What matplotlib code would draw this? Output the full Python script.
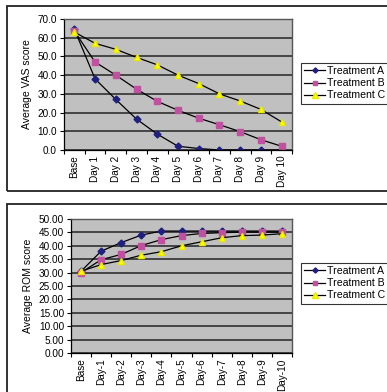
import matplotlib
matplotlib.use("Agg")
import matplotlib.pyplot as plt
from matplotlib.patches import Rectangle
import numpy as np

plt.rcParams['font.family'] = ['Liberation Sans', 'DejaVu Sans']

# Pain scores (VAS) over the treatment period
vas_days = ["Base", "Day 1", "Day 2", "Day 3", "Day 4", "Day 5",
            "Day 6", "Day 7", "Day 8", "Day 9", "Day 10"]
vas_a = [64.5, 38.0, 27.0, 16.5, 8.5, 2.0, 0.8, 0.0, 0.0, 0.0, 0.0]
vas_b = [63.5, 47.0, 40.0, 32.5, 26.0, 21.2, 17.0, 13.5, 9.8, 5.5, 2.0]
vas_c = [63.0, 57.0, 53.8, 49.5, 45.5, 40.0, 35.5, 30.0, 26.2, 21.7, 15.0]
vas_ticks = [0, 10, 20, 30, 40, 50, 60, 70]

# Range of motion (ROM) over the treatment period
rom_days = ["Base", "Day-1", "Day-2", "Day-3", "Day-4", "Day-5",
            "Day-6", "Day-7", "Day-8", "Day-9", "Day-10"]
rom_a = [30.5, 38.0, 41.2, 44.0, 45.5, 45.5, 45.5, 45.5, 45.5, 45.5, 45.5]
rom_b = [30.0, 34.8, 36.8, 40.1, 42.3, 43.8, 44.6, 44.9, 45.1, 45.1, 45.1]
rom_c = [30.5, 33.0, 34.5, 36.5, 37.8, 40.0, 41.5, 43.0, 43.8, 44.0, 44.5]
rom_ticks = [0, 5, 10, 15, 20, 25, 30, 35, 40, 45, 50]

series_names = ["Treatment A", "Treatment B", "Treatment C"]
styles = [
    dict(marker="D", color="black", markerfacecolor="#1F1F80", markeredgecolor="#1F1F80", markersize=3.5),
    dict(marker="s", color="black", markerfacecolor="#C050A0", markeredgecolor="#C050A0", markersize=4.5),
    dict(marker="^", color="black", markerfacecolor="#FFFF00", markeredgecolor="#E8E800", markersize=5),
]

W, H = 387, 392
fig = plt.figure(figsize=(W / 100, H / 100), dpi=100)

# Chart frames
for (x0, y0, y1) in [(7, 6, 191), (7, 204, 400)]:
    fig.patches.append(Rectangle((x0 / W, 1 - y1 / H), (400 - x0) / W, (y1 - y0) / H,
                                 transform=fig.transFigure, fill=False,
                                 edgecolor="#222222", linewidth=1.3))


def draw_panel(rect, days, series, ticks, fmt, ylabel, legend_top):
    ax = fig.add_axes(rect)
    ax.set_facecolor("#C0C0C0")
    x = np.arange(len(days))
    for vals, name, st in zip(series, series_names, styles):
        ax.plot(x, vals, linewidth=0.9, label=name, **st)
    ax.set_xlim(-0.5, len(days) - 0.5)
    ax.set_ylim(ticks[0], ticks[-1])
    ax.set_yticks(ticks)
    ax.set_yticklabels([fmt.format(t) for t in ticks], fontsize=7.2)
    ax.yaxis.grid(True, color="#303030", linewidth=1.2)
    ax.set_axisbelow(True)
    ax.set_xticks(x)
    ax.set_xticklabels(days, rotation=90, fontsize=7.2)
    ax.tick_params(axis="x", length=0, pad=4)
    ax.set_xticks(np.arange(-0.5, len(days), 1.0), minor=True)
    ax.tick_params(axis="x", which="minor", length=3, width=0.8, direction="out")
    ax.tick_params(axis="y", length=3, width=0.8, direction="out", pad=2)
    ax.set_ylabel(ylabel, fontsize=7.5, labelpad=4)
    for side in ["top", "right"]:
        ax.spines[side].set_color("#555555")
        ax.spines[side].set_linewidth(1.0)
    for side in ["left", "bottom"]:
        ax.spines[side].set_color("black")
        ax.spines[side].set_linewidth(0.9)
    leg = fig.legend(*ax.get_legend_handles_labels(), loc="upper left",
                     bbox_to_anchor=(301 / W, 1 - legend_top / H),
                     fontsize=7.6, frameon=True, fancybox=False,
                     handlelength=2.0, handletextpad=0.15, borderpad=0.3,
                     labelspacing=0.2, borderaxespad=0, markerscale=0.75)
    leg.get_frame().set_edgecolor("black")
    leg.get_frame().set_linewidth(0.8)
    return ax


draw_panel([64 / W, 1 - 150 / H, 228 / W, 131 / H], vas_days,
           [vas_a, vas_b, vas_c], vas_ticks, "{:.1f}", "Average VAS score", 63)
draw_panel([71 / W, 1 - 353 / H, 221 / W, 134 / H], rom_days,
           [rom_a, rom_b, rom_c], rom_ticks, "{:.2f}", "Average ROM score", 263)

fig.savefig("out.png", dpi=100)
